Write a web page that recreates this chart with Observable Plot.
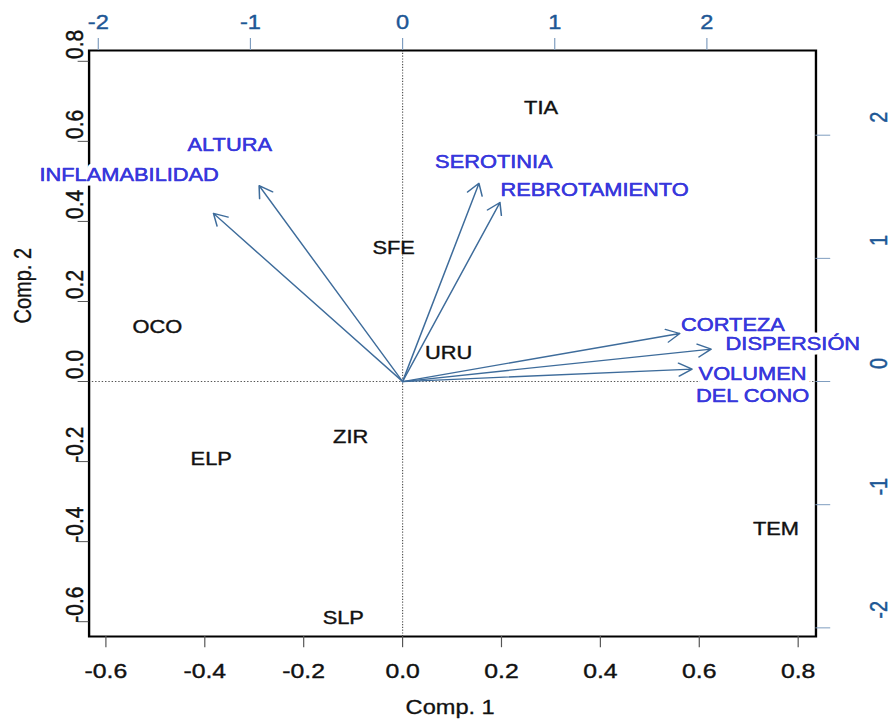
<!DOCTYPE html>
<html><head><meta charset="utf-8">
<script src="https://cdn.jsdelivr.net/npm/d3@7"></script>
<script src="https://cdn.jsdelivr.net/npm/@observablehq/plot@0.6"></script>
<style>
html,body{margin:0;padding:0;background:#fff;overflow:hidden}
#chart svg{transform:scaleX(1.18);transform-origin:0 0;display:block;overflow:visible}
#chart text{paint-order:stroke}
</style></head><body><div id="chart"></div>
<script>
// Observations (Comp. 1 / Comp. 2 scores, bottom/left axes)
const species = ["TIA","SFE","OCO","URU","ZIR","ELP","SLP","TEM"];
const comp1 = [0.280,-0.018,-0.496,0.093,-0.105,-0.387,-0.120,0.755];
const comp2 = [0.683,0.333,0.135,0.070,-0.140,-0.193,-0.590,-0.368];

// Variables (loadings, top/right axes units)
const variables = ["INFLAMABILIDAD","ALTURA","SEROTINIA","REBROTAMIENTO","CORTEZA","DISPERSIÓN","VOLUMEN DEL CONO"];
const loading1 = [-1.243,-0.943,0.502,0.640,1.822,2.028,1.903];
const loading2 = [1.365,1.590,1.609,1.454,0.390,0.263,0.101];
const labelText = ["INFLAMABILIDAD","ALTURA","SEROTINIA","REBROTAMIENTO","CORTEZA","DISPERSIÓN","VOLUMEN\nDEL CONO"];
const label1 = [-1.797,-1.136,0.600,1.262,2.171,2.565,2.300];
const label2 = [1.690,1.934,1.793,1.568,0.471,0.317,-0.019];

// Axes
const xTicks = [-0.6,-0.4,-0.2,0,0.2,0.4,0.6,0.8];
const yTicks = [-0.6,-0.4,-0.2,0,0.2,0.4,0.6,0.8];
const secTicks = [-2,-1,0,1,2];
const secScale = 0.3077; // primary units per secondary unit
const xDomain = [-0.634, 0.836];
const yDomain = [-0.637, 0.827];
const xTitle = "Comp. 1";
const yTitle = "Comp. 2";

const obs = species.map((s,i)=>({name:s, x:comp1[i], y:comp2[i]}));
const vars = variables.map((v,i)=>({name:v, x:loading1[i]*secScale, y:loading2[i]*secScale,
  lx:label1[i]*secScale, ly:label2[i]*secScale, label:labelText[i]}));

const fmt = d => d.toFixed(1);
const font = "'Liberation Sans', Arial, Helvetica, sans-serif";
const blueTick = "#7f9dbf";
const blueText = "#1d5795";
const labelBlue = "#3838dc";
const ink = "#111";

const chart = Plot.plot({
  width: 756, height: 727,
  marginLeft: 75, marginRight: 65, marginTop: 50, marginBottom: 91,
  x: {domain: xDomain, axis: null},
  y: {domain: yDomain, axis: null},
  style: {fontFamily: font, fontSize: "18px", background: "white", color: "#000"},
  marks: [
    Plot.ruleX([0], {x: d=>d, stroke: "#555", strokeDasharray: "1.2,1.6", strokeWidth: 1}),
    Plot.ruleY([0], {y: d=>d, stroke: "#555", strokeDasharray: "1.2,1.6", strokeWidth: 1}),
    Plot.frame({stroke: "#000", strokeWidth: 2}),
    // ticks
    Plot.ruleX(xTicks, {x: d=>d, y1: ()=>yDomain[0], y2: ()=>yDomain[0]-0.028, stroke: "#555"}),
    Plot.ruleY(yTicks, {y: d=>d, x1: ()=>xDomain[0], x2: ()=>xDomain[0]-0.022, stroke: "#555"}),
    Plot.ruleX(secTicks, {x: d=>d*secScale, y1: ()=>yDomain[1], y2: ()=>yDomain[1]+0.03, stroke: blueTick}),
    Plot.ruleY(secTicks, {y: d=>d*secScale, x1: ()=>xDomain[1], x2: ()=>xDomain[1]+0.03, stroke: blueTick}),
    // tick labels
    Plot.text(xTicks, {x: d=>d, y: ()=>yDomain[0], dy: 34.5, text: fmt, fontSize: 21, fill: ink, stroke: ink, strokeWidth: 0.4}),
    Plot.text(yTicks, {y: d=>d, x: ()=>xDomain[0], dx: -12, dy: -17, text: fmt, rotate: -90, fontSize: 21, fill: ink, stroke: ink, strokeWidth: 0.4}),
    Plot.text(secTicks, {x: d=>d*secScale, y: ()=>yDomain[1], dy: -28, text: d=>String(d), fontSize: 20, fill: blueText, stroke: blueText, strokeWidth: 0.4}),
    Plot.text(secTicks, {y: d=>d*secScale, x: ()=>xDomain[1], dx: 54, dy: -18, text: d=>String(d), rotate: -90, fontSize: 20, fill: blueText, stroke: blueText, strokeWidth: 0.4}),
    // axis titles
    Plot.text([xTitle], {frameAnchor: "bottom", dy: 77.5, dx: -2, text: d=>d, fontSize: 20, fill: ink, stroke: ink, strokeWidth: 0.3}),
    Plot.text([yTitle], {frameAnchor: "left", dx: -56, dy: -20, rotate: -90, text: d=>d, fontSize: 20, fill: ink, stroke: ink, strokeWidth: 0.3}),
    // observations
    Plot.text(obs, {x: "x", y: "y", text: "name", fontSize: 18.5, fill: ink, stroke: ink, strokeWidth: 0.4}),
    // variable labels: white backing, then ink
    Plot.text(vars, {x: "lx", y: "ly", text: "label", fontSize: 18.5, lineHeight: 1.22,
      fill: labelBlue, stroke: "white", strokeWidth: 9}),
    Plot.text(vars, {x: "lx", y: "ly", text: "label", fontSize: 18.5, lineHeight: 1.22,
      fill: labelBlue, stroke: labelBlue, strokeWidth: 0.4}),
    // arrows
    Plot.arrow(vars, {x1: ()=>0, y1: ()=>0, x2: "x", y2: "y", stroke: "#3e6c9b",
      strokeWidth: 1.3, headLength: 15, headAngle: 60})
  ]
});
document.getElementById("chart").appendChild(chart);
</script>
</body></html>
